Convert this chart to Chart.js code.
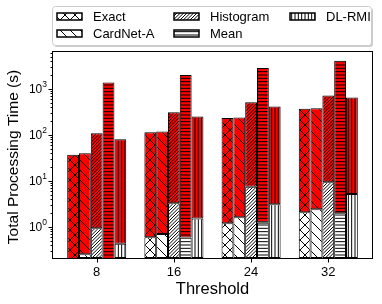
<!DOCTYPE html>
<html>
<head>
<meta charset="utf-8">
<script src="https://cdn.jsdelivr.net/npm/chart.js@4.4.0/dist/chart.umd.min.js"></script>
<style>
  html, body { margin: 0; padding: 0; background: #fff; }
  canvas { display: block; }
</style>
</head>
<body>
<canvas id="chart" width="382" height="304" style="width:382px;height:304px"></canvas>
<script>
// Data (seconds, log scale)
const thresholds = [8, 16, 24, 32];
const methods = ['Exact', 'CardNet-A', 'Histogram', 'Mean', 'DL-RMI'];

// total height of each bar
const exactTotal = [37, 114, 231, 367];
const cardnetTotal = [40, 118, 238, 380];
const histTotal = [109, 310, 513, 716];
const meanTotal = [1370, 2000, 2820, 4070];
const dlrmiTotal = [80, 250, 412, 646];

// white lower part of each bar
const exactBase = [0.15, 0.6, 1.2, 2.08];
const cardnetBase = [0.255, 0.7, 1.62, 2.42];
const histBase = [0.94, 3.27, 7.5, 9.3];
const meanBase = [0.15, 0.59, 1.24, 1.98];
const dlrmiBase = [0.43, 1.52, 3.1, 5.2];

const yTickExponents = [0, 1, 2, 3];

const FONT = "'Liberation Sans', Arial, sans-serif";
const RED = '#ff0000';

function hatch(kind, bg) {
    const s = 10;
    const c = document.createElement('canvas');
    c.width = s;
    c.height = s;
    const g = c.getContext('2d');
    g.fillStyle = bg;
    g.fillRect(0, 0, s, s);
    g.strokeStyle = '#000';
    g.lineWidth = 1;
    g.beginPath();
    if (kind === 'x' || kind === '\\') {
        for (let o = -s; o <= s; o += s) { g.moveTo(o, 0); g.lineTo(o + s, s); }
    }
    if (kind === 'x') {
        for (let o = -s; o <= s; o += s) { g.moveTo(o, s); g.lineTo(o + s, 0); }
    }
    if (kind === '/') {
        for (let o = -s; o <= s; o += s / 3) { g.moveTo(o, s); g.lineTo(o + s, 0); }
    }
    if (kind === '-') {
        for (let y = s / 6; y < s; y += s / 3) { g.moveTo(0, y); g.lineTo(s, y); }
    }
    if (kind === '|') {
        for (let x = s / 6; x < s; x += s / 3) { g.moveTo(x, 0); g.lineTo(x, s); }
    }
    g.stroke();
    return g.createPattern(c, 'repeat');
}

const series = [
    { name: methods[0], kind: 'x', base: exactBase, total: exactTotal },
    { name: methods[1], kind: '\\', base: cardnetBase, total: cardnetTotal },
    { name: methods[2], kind: '/', base: histBase, total: histTotal },
    { name: methods[3], kind: '-', base: meanBase, total: meanTotal },
    { name: methods[4], kind: '|', base: dlrmiBase, total: dlrmiTotal }
];

const datasets = [];
series.forEach(s => {
    datasets.push({
        label: s.name,
        stack: s.name,
        data: s.base,
        backgroundColor: hatch(s.kind, '#fff')
    });
    datasets.push({
        label: s.name + ' (rest)',
        stack: s.name,
        data: s.base.map((b, i) => [b, s.total[i]]),
        backgroundColor: hatch(s.kind, RED)
    });
});

// frame, ticks, axis labels and legend drawn in matplotlib style
const decorations = {
    id: 'decorations',
    afterDraw(chart) {
        const ctx = chart.ctx;
        const area = chart.chartArea;
        const xs = chart.scales.x;
        const ys = chart.scales.y;
        ctx.save();

        // frame
        ctx.strokeStyle = '#000';
        ctx.lineWidth = 1;
        ctx.strokeRect(Math.round(area.left) - 0.5, Math.round(area.top) - 0.5,
            Math.round(area.right - area.left) + 1, Math.round(area.bottom - area.top) + 1);

        // y ticks
        ctx.beginPath();
        for (let e = -1; e <= 4; e++) {
            for (let m = 1; m <= 9; m++) {
                const v = m * Math.pow(10, e);
                if (v < ys.min || v > ys.max) continue;
                const y = Math.round(ys.getPixelForValue(v)) + 0.5;
                const len = m === 1 ? 4 : 2;
                ctx.moveTo(area.left - 0.5, y);
                ctx.lineTo(area.left - 0.5 - len, y);
            }
        }
        // x ticks
        thresholds.forEach(t => {
            const x = Math.round(xs.getPixelForValue(t)) + 0.5;
            ctx.moveTo(x, area.bottom + 0.5);
            ctx.lineTo(x, area.bottom + 4.5);
        });
        ctx.stroke();

        ctx.fillStyle = '#000';
        // y tick labels 10^n
        yTickExponents.forEach(e => {
            const y = ys.getPixelForValue(Math.pow(10, e));
            ctx.font = '12px ' + FONT;
            const w10 = ctx.measureText('10').width;
            ctx.font = '8.5px ' + FONT;
            const wsup = ctx.measureText(String(e)).width;
            const right = area.left - 6;
            ctx.textBaseline = 'middle';
            ctx.textAlign = 'left';
            ctx.font = '12px ' + FONT;
            ctx.fillText('10', right - wsup - w10, y + 1);
            ctx.font = '8.5px ' + FONT;
            ctx.fillText(String(e), right - wsup, y - 4);
        });

        // x tick labels
        ctx.font = '13px ' + FONT;
        ctx.textAlign = 'center';
        ctx.textBaseline = 'middle';
        thresholds.forEach(t => {
            ctx.fillText(String(t), xs.getPixelForValue(t), area.bottom + 14);
        });

        // axis titles
        ctx.font = '16.5px ' + FONT;
        ctx.fillText('Threshold', (area.left + area.right) / 2, 289);
        ctx.save();
        ctx.translate(14, (area.top + area.bottom) / 2 + 2);
        ctx.rotate(-Math.PI / 2);
        ctx.font = '15.5px ' + FONT;
        ctx.fillText('Total Processing Time (s)', 0, 0);
        ctx.restore();

        // legend
        const lx = 52.5, ly = 6.5, lw = 319, lh = 39;
        ctx.fillStyle = 'rgba(0,0,0,0.2)';
        ctx.beginPath();
        ctx.roundRect(lx + 1.5, ly + 1.5, lw, lh, 3);
        ctx.fill();
        ctx.fillStyle = '#fff';
        ctx.strokeStyle = '#cccccc';
        ctx.beginPath();
        ctx.roundRect(lx, ly, lw, lh, 3);
        ctx.fill();
        ctx.stroke();

        const slots = [[57, 13], [57, 30], [174, 13], [174, 30], [290, 13]];
        series.forEach((s, i) => {
            const [hx, hy] = slots[i];
            ctx.fillStyle = hatch(s.kind, '#fff');
            ctx.fillRect(hx, hy, 25, 7);
            ctx.strokeStyle = '#000';
            ctx.lineWidth = 1.5;
            ctx.strokeRect(hx, hy, 25, 7);
            ctx.fillStyle = '#000';
            ctx.font = '13px ' + FONT;
            ctx.textAlign = 'left';
            ctx.textBaseline = 'middle';
            ctx.fillText(s.name, hx + 36, hy + 4);
        });

        ctx.restore();
    }
};

new Chart(document.getElementById('chart'), {
    type: 'bar',
    data: {
        labels: thresholds,
        datasets: datasets
    },
    options: {
        responsive: false,
        animation: false,
        layout: { padding: { left: 53, top: 52, right: 10, bottom: 46 } },
        plugins: {
            legend: { display: false },
            tooltip: { enabled: false }
        },
        datasets: {
            bar: {
                borderColor: '#000',
                borderWidth: 1,
                borderSkipped: false,
                categoryPercentage: 0.765,
                barPercentage: 1
            }
        },
        scales: {
            x: {
                type: 'linear',
                display: false,
                min: 3.47,
                max: 36.53,
                offset: false,
                grid: { offset: false },
                ticks: { stepSize: 8, includeBounds: false }
            },
            y: {
                type: 'logarithmic',
                display: false,
                stacked: false,
                min: 0.212,
                max: 6300
            }
        }
    },
    plugins: [decorations]
});
</script>
</body>
</html>
